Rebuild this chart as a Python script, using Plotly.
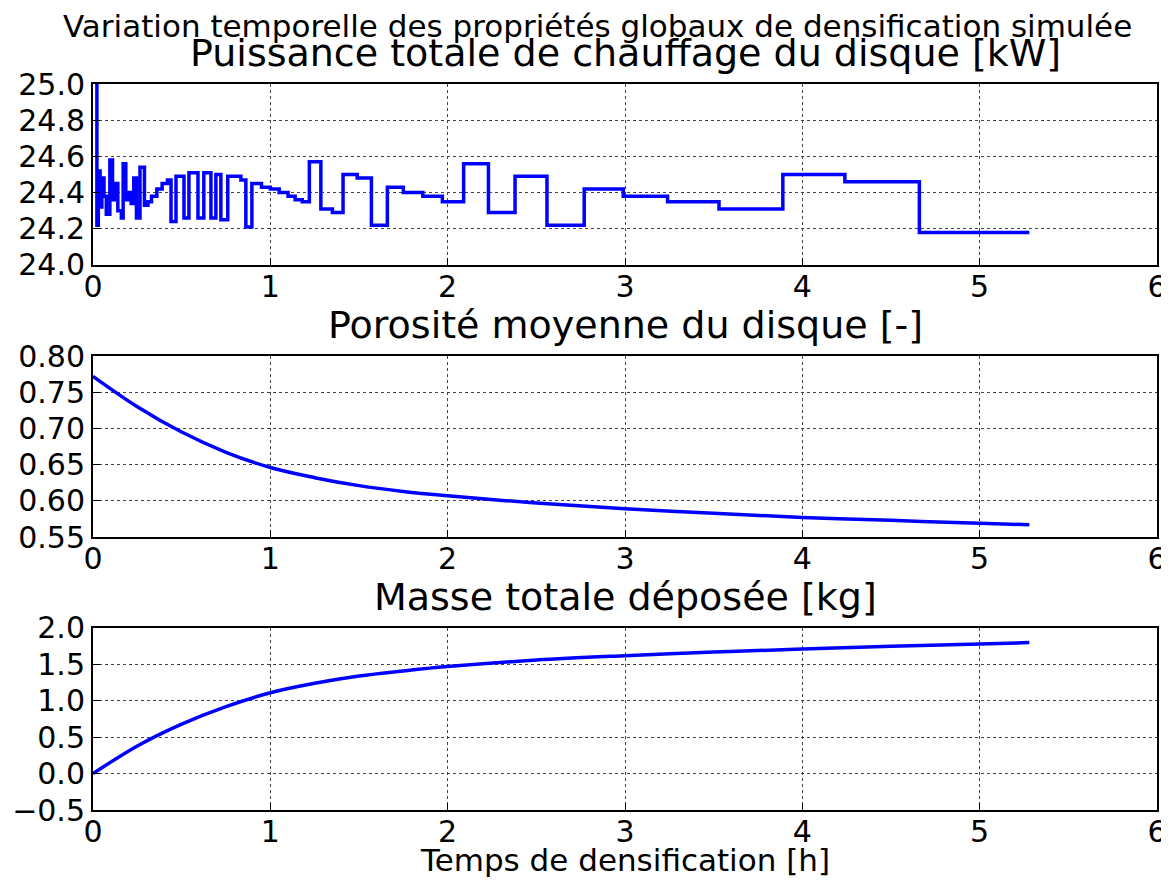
import plotly.graph_objects as go

# heating power steps [kW] vs time [h]
t_power = [0.000, 0.022, 0.030, 0.040, 0.050, 0.062, 0.075, 0.095, 0.110, 0.125,
           0.140, 0.160, 0.170, 0.185, 0.200, 0.215, 0.230, 0.245, 0.265, 0.290,
           0.310, 0.330, 0.360, 0.390, 0.420, 0.440, 0.468, 0.513, 0.541, 0.592,
           0.625, 0.665, 0.693, 0.721, 0.760, 0.834, 0.862, 0.896, 0.950, 1.000,
           1.050, 1.100, 1.140, 1.180, 1.220, 1.285, 1.350, 1.410, 1.490, 1.570,
           1.660, 1.750, 1.860, 1.970, 2.090, 2.230, 2.380, 2.560, 2.770, 2.990,
           3.240, 3.530, 3.890, 4.240, 4.660, 5.280]
power = [26.00, 24.22, 24.52, 24.32, 24.48, 24.38, 24.28, 24.58, 24.36, 24.45,
         24.30, 24.26, 24.56, 24.36, 24.40, 24.34, 24.48, 24.26, 24.54, 24.33,
         24.35, 24.38, 24.42, 24.45, 24.47, 24.24, 24.49, 24.26, 24.51, 24.26,
         24.51, 24.26, 24.50, 24.25, 24.49, 24.47, 24.21, 24.45, 24.43, 24.42,
         24.40, 24.38, 24.36, 24.35, 24.57, 24.31, 24.29, 24.50, 24.48, 24.22,
         24.43, 24.40, 24.38, 24.35, 24.56, 24.29, 24.49, 24.22, 24.42, 24.38,
         24.35, 24.31, 24.50, 24.46, 24.18, 24.18]

# mean porosity and deposited mass
t_curve = [0.0, 0.25, 0.5, 0.75, 1.0, 1.25, 1.5, 1.75, 2.0, 2.5, 3.0, 3.5, 4.0, 4.5, 5.0, 5.28]
porosity = [0.772, 0.730, 0.695, 0.667, 0.646, 0.632, 0.621, 0.613, 0.607, 0.597,
            0.589, 0.583, 0.577, 0.573, 0.569, 0.567]
mass = [0.0, 0.38, 0.68, 0.92, 1.11, 1.24, 1.34, 1.41, 1.47, 1.56, 1.62, 1.67, 1.71,
        1.75, 1.78, 1.80]

font = "DejaVu Sans"
blue = "#0000ff"

fig = go.Figure()
fig.add_trace(go.Scatter(x=t_power, y=power, mode="lines", line=dict(color=blue, width=3.5, shape="hv"),
                         xaxis="x", yaxis="y"))
fig.add_trace(go.Scatter(x=t_curve, y=porosity, mode="lines", line=dict(color=blue, width=3.5, shape="spline"),
                         xaxis="x2", yaxis="y2"))
fig.add_trace(go.Scatter(x=t_curve, y=mass, mode="lines", line=dict(color=blue, width=3.5, shape="spline"),
                         xaxis="x3", yaxis="y3"))

ax = dict(showline=True, linecolor="black", linewidth=2, mirror=True,
          ticks="inside", ticklen=7, tickcolor="black", automargin=False,
          showgrid=True, gridcolor="#444", griddash="dot", gridwidth=1,
          zeroline=False, tickfont=dict(size=30, color="black"))

xax = dict(ax, range=[0, 6], dtick=1, tick0=0, ticklabelstandoff=-6)
# the page body adds an 8px offset, so the figure is 8px smaller
fig.update_layout(
    width=1161, height=873,
    margin=dict(l=85, r=12, t=76, b=71),
    paper_bgcolor="white", plot_bgcolor="white",
    showlegend=False,
    font=dict(family=font, color="black"),
    xaxis=dict(xax, domain=[0, 1], anchor="y"),
    yaxis=dict(ax, domain=[0.7507, 1], range=[24, 25], dtick=0.2, tickformat=".1f", anchor="x"),
    xaxis2=dict(xax, domain=[0, 1], anchor="y2"),
    yaxis2=dict(ax, domain=[0.376, 0.6253], range=[0.55, 0.80], dtick=0.05, tickformat=".2f", anchor="x2"),
    xaxis3=dict(xax, domain=[0, 1], anchor="y3"),
    yaxis3=dict(ax, domain=[0, 0.2507], range=[-0.5, 2.0], dtick=0.5, tickformat=".1f", anchor="x3"),
)

# (text, centre x px, centre y px, size) in page pixels; plot area spans 93..1157 x 84..810
titles = [
    ("Variation temporelle des propriétés globaux de densification simulée", 597, 26, 31),
    ("Puissance totale de chauffage du disque [kW]", 625, 53, 38),
    ("Porosité moyenne du disque [-]", 625, 325, 38),
    ("Masse totale déposée [kg]", 625, 597, 38),
    ("Temps de densification [h]", 625, 860, 31),
]
for text, xpx, ypx, size in titles:
    fig.add_annotation(text=text, x=(xpx - 93) / 1064, xref="paper", y=1 - (ypx - 84) / 726, yref="paper",
                       showarrow=False, font=dict(size=size, color="black"),
                       xanchor="center", yanchor="middle")

fig.write_html("out.html")
